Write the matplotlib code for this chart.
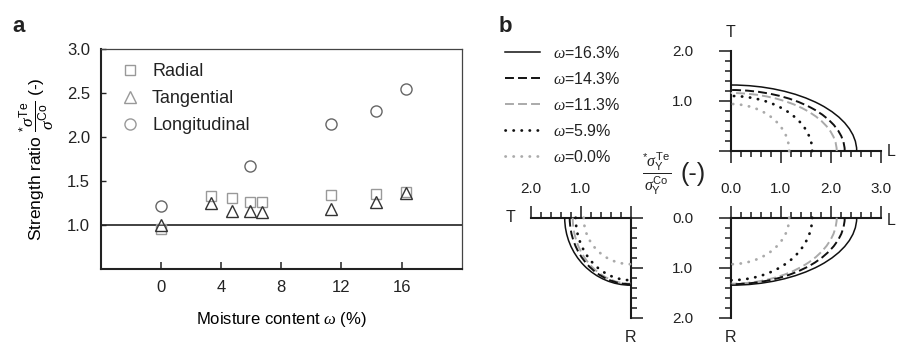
import matplotlib
matplotlib.use('Agg')
import matplotlib.pyplot as plt
from matplotlib.patches import Arc
from matplotlib.lines import Line2D
from matplotlib.ticker import MultipleLocator

plt.rcParams['font.family'] = ['Liberation Sans', 'DejaVu Sans']
plt.rcParams['mathtext.fontset'] = 'custom'
plt.rcParams['mathtext.rm'] = 'Liberation Sans'
plt.rcParams['mathtext.it'] = 'Liberation Serif:italic'
plt.rcParams['mathtext.bf'] = 'Liberation Sans:bold'
plt.rcParams['mathtext.sf'] = 'Liberation Sans'
plt.rcParams['text.color'] = '#222222'
plt.rcParams['xtick.color'] = '#222222'
plt.rcParams['ytick.color'] = '#222222'

# ---------------- data: panel a ----------------
moisture = [0, 3.3, 4.7, 5.9, 6.7, 11.3, 14.3, 16.3]
radial = [0.95, 1.33, 1.31, 1.26, 1.26, 1.34, 1.35, 1.37]
tangential = [1.00, 1.25, 1.16, 1.16, 1.15, 1.18, 1.26, 1.36]
moisture_long = [0, 5.9, 11.3, 14.3, 16.3]
longitudinal = [1.22, 1.67, 2.15, 2.29, 2.54]
xticks_a = [0, 4, 8, 12, 16]
yticks_a = [1.0, 1.5, 2.0, 2.5, 3.0]

# ---------------- data: panel b ----------------
omega_labels = ['16.3', '14.3', '11.3', '5.9', '0.0']
L_intercept = [2.52, 2.28, 2.12, 1.63, 1.17]
T_intercept = [1.32, 1.22, 1.16, 1.10, 0.94]
R_intercept = [1.35, 1.33, 1.32, 1.25, 0.93]

# styles (not data)
curve_colors = ['#111111', '#111111', '#aaaaaa', '#111111', '#aaaaaa']
curve_ls = ['-', (0, (4.6, 2.1)), (0, (4.6, 2.1)), (0, (0.1, 2.8)), (0, (0.1, 2.8))]
curve_lw = [1.1, 1.4, 1.4, 2.0, 2.0]
curve_cap = ['butt', 'butt', 'butt', 'round', 'round']

W, H = 897, 346
fig = plt.figure(figsize=(W / 100, H / 100), dpi=100)


def pax(x0, y0, x1, y1):
    return fig.add_axes([x0 / W, 1 - y1 / H, (x1 - x0) / W, (y1 - y0) / H])


# ---------------- panel a ----------------
ax = pax(101, 49, 461.7, 269)
ax.axhline(1.0, color='#333333', lw=1.3, zorder=1)
ax.plot(moisture, radial, ls='none', marker='s', ms=7.5, mfc='none',
        mec='#999999', mew=1.0, label='Radial', zorder=3)
ax.plot(moisture, tangential, ls='none', marker='^', ms=9, mfc='none',
        mec='#333333', mew=1.0, label='Tangential', zorder=3)
ax.plot(moisture_long, longitudinal, ls='none', marker='o', ms=8, mfc='none',
        mec='#666666', mew=1.0, label='Longitudinal', zorder=3)
ax.set_xlim(-4, 20)
ax.set_ylim(0.5, 3.0)
ax.set_xticks(xticks_a)
ax.set_yticks(yticks_a, ['%.1f' % v for v in yticks_a])
ax.tick_params(axis='x', direction='in', length=5, width=1.1, pad=8, labelsize=12)
ax.tick_params(axis='y', direction='in', length=3.5, width=1.0, pad=8, labelsize=12)
for s in ['left', 'bottom']:
    ax.spines[s].set_linewidth(1.5)
    ax.spines[s].set_color('#222222')
for s in ['top', 'right']:
    ax.spines[s].set_linewidth(0.9)
    ax.spines[s].set_color('#444444')
ax.set_xlabel(r'Moisture content $\omega$ (%)', fontsize=12, labelpad=11)
ax.set_ylabel(r'Strength ratio $\dfrac{{}^{*}\sigma^{\mathrm{Te}}}{\sigma^{\mathrm{Co}}}$ (-)',
              fontsize=12.5, labelpad=8)
leg = ax.legend(loc='upper left', bbox_to_anchor=(0.0554, 0.936), frameon=False,
                fontsize=13, borderpad=0, borderaxespad=0, handlelength=1.0,
                handletextpad=0.72, labelspacing=0.55, numpoints=1)
for h in leg.legend_handles:
    h.set_markeredgecolor('#999999')

fig.text(19 / W, 1 - 32 / H, 'a', fontsize=16, fontweight='bold', ha='center', va='baseline')
fig.text(505 / W, 1 - 32 / H, 'b', fontsize=16, fontweight='bold', ha='center', va='baseline')

# ---------------- panel b ----------------
TR = pax(730.7, 51, 880.7, 151)
BR = pax(730.7, 217.7, 880.7, 317.7)
BL = pax(530.7, 217.7, 630.7, 317.7)


def style_q(a, xs, ys):
    for s in a.spines:
        a.spines[s].set_visible(s in (xs, ys))
        a.spines[s].set_linewidth(1.5)
        a.spines[s].set_color('#1a1a1a')
    a.patch.set_visible(False)
    a.xaxis.set_ticks_position(xs)
    a.yaxis.set_ticks_position(ys)
    a.xaxis.set_major_locator(MultipleLocator(1))
    a.yaxis.set_major_locator(MultipleLocator(1))
    a.xaxis.set_minor_locator(MultipleLocator(0.2))
    a.yaxis.set_minor_locator(MultipleLocator(0.2))
    a.tick_params(which='major', direction='out', length=8.6, width=1.1,
                  color='#1a1a1a', labelsize=11)
    a.tick_params(which='minor', direction='out', length=4, width=1.1, color='#1a1a1a')


style_q(TR, 'bottom', 'left')
TR.set_xlim(0, 3)
TR.set_ylim(0, 2)
TR.set_xticks([0, 1, 2, 3])
TR.tick_params(axis='x', labelbottom=False)
TR.set_yticks([0, 1, 2], ['', '1.0', '2.0'])
TR.tick_params(axis='y', which='major', pad=18.5)

style_q(BR, 'top', 'left')
BR.set_xlim(0, 3)
BR.set_ylim(2, 0)
BR.set_xticks([0, 1, 2, 3], ['0.0', '1.0', '2.0', '3.0'])
BR.tick_params(axis='x', which='major', pad=7)
BR.set_yticks([0, 1, 2], ['0.0', '1.0', '2.0'])
BR.tick_params(axis='y', which='major', pad=18.5)

style_q(BL, 'top', 'right')
BL.set_xlim(2, 0)
BL.set_ylim(2, 0)
BL.set_xticks([0, 1, 2], ['', '1.0', '2.0'])
BL.tick_params(axis='x', which='major', pad=7)
BL.set_yticks([0, 1, 2])
BL.tick_params(axis='y', labelright=False)

for i in range(len(omega_labels)):
    kw = dict(theta1=0, theta2=90, edgecolor=curve_colors[i], linestyle=curve_ls[i],
              lw=curve_lw[i], capstyle=curve_cap[i], clip_on=False, zorder=3 + (4 - i) * 0.1)
    TR.add_patch(Arc((0, 0), 2 * L_intercept[i], 2 * T_intercept[i], **kw))
    BR.add_patch(Arc((0, 0), 2 * L_intercept[i], 2 * R_intercept[i], **kw))
    BL.add_patch(Arc((0, 0), 2 * T_intercept[i], 2 * R_intercept[i], **kw))

# axis letters
TR.text(0, 2.36, 'T', fontsize=11.5, ha='center', va='center')
TR.text(3.2, 0, 'L', fontsize=11.5, ha='center', va='center')
BR.text(3.2, 0.06, 'L', fontsize=11.5, ha='center', va='center')
BR.text(0, 2.39, 'R', fontsize=11.5, ha='center', va='center')
BL.text(2.4, 0, 'T', fontsize=11.5, ha='center', va='center')
BL.text(0, 2.39, 'R', fontsize=11.5, ha='center', va='center')

fig.text(657 / W, 1 - 174 / H,
         r'$\dfrac{{}^{*}\sigma_{\mathrm{Y}}^{\mathrm{Te}}}{\sigma_{\mathrm{Y}}^{\mathrm{Co}}}$',
         fontsize=11.5, ha='center', va='center')
fig.text(693 / W, 1 - 174 / H, '(-)', fontsize=18, ha='center', va='center')

# legend for panel b
handles = [Line2D([], [], color=curve_colors[i], linestyle=curve_ls[i], lw=curve_lw[i],
                  dash_capstyle=curve_cap[i]) for i in range(len(omega_labels))]
labels = [r'$\omega$=%s%%' % s for s in omega_labels]
fig.legend(handles, labels, loc='upper left', bbox_to_anchor=(505 / W, 1 - 45 / H),
           frameon=False, fontsize=11.5, borderpad=0, borderaxespad=0,
           handlelength=2.2, handletextpad=0.8, labelspacing=0.62)

fig.savefig('out.png', dpi=100)
